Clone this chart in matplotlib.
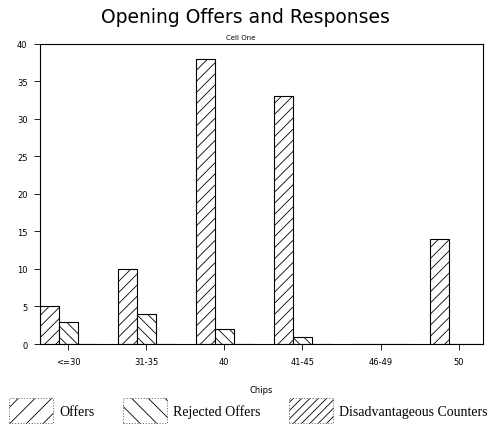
import numpy as np
import matplotlib
matplotlib.use("Agg")
import matplotlib.pyplot as plt
from matplotlib.patches import Patch

# data
categories = ["<=30", "31-35", "40", "41-45", "46-49", "50"]
offers = [5, 10, 38, 33, 0, 14]
rejected = [3, 4, 2, 1, 0, 0]
disadvantageous = [0, 0, 0, 0, 0, 0]

plt.rcParams["hatch.linewidth"] = 0.6

fig = plt.figure(figsize=(4.9, 4.27), dpi=100)
ax = fig.add_axes([0.0816, 0.192, 0.904, 0.703])

x = np.arange(len(categories))
w = 0.242
ax.bar(x - w, offers, w, color="white", edgecolor="black", linewidth=0.8, hatch="///")
ax.bar(x, rejected, w, color="white", edgecolor="black", linewidth=0.8, hatch="\\\\\\")
ax.bar(x + w, disadvantageous, w, color="white", edgecolor="black", linewidth=0.8, hatch="//////")

ax.set_xlim(-0.36, 5.31)
ax.set_ylim(0, 40)
ax.set_yticks(range(0, 41, 5))
ax.set_xticks(x)
ax.set_xticklabels(categories)
ax.tick_params(axis="both", labelsize=6, length=4, width=0.6, pad=5)
for s in ax.spines.values():
    s.set_linewidth(0.8)
ax.set_xlabel("Chips", fontsize=6, labelpad=14)

fig.text(0.5, 0.958, "Opening Offers and Responses", ha="center", va="center", fontsize=13.5)
fig.text(0.492, 0.912, "Cell One", ha="center", va="center", fontsize=5)

# legend boxes: sparse hatching, thin dashed outline
handles = [
    Patch(facecolor="white", edgecolor="black", linestyle=(0, (2, 3)), linewidth=0.4, hatch="//"),
    Patch(facecolor="white", edgecolor="black", linestyle=(0, (2, 3)), linewidth=0.4, hatch="\\\\"),
    Patch(facecolor="white", edgecolor="black", linestyle=(0, (2, 3)), linewidth=0.4, hatch="////"),
]
fig.legend(handles, ["Offers", "Rejected Offers", "Disadvantageous Counters"],
           loc="upper left", bbox_to_anchor=(9 / 490, 1 - 399 / 427), ncol=3, frameon=False,
           handlelength=3.2, handleheight=2.4, handletextpad=0.45, columnspacing=2.0,
           borderaxespad=0, borderpad=0, prop={"family": "Liberation Serif", "size": 10})

fig.savefig("out.png", dpi=100)
